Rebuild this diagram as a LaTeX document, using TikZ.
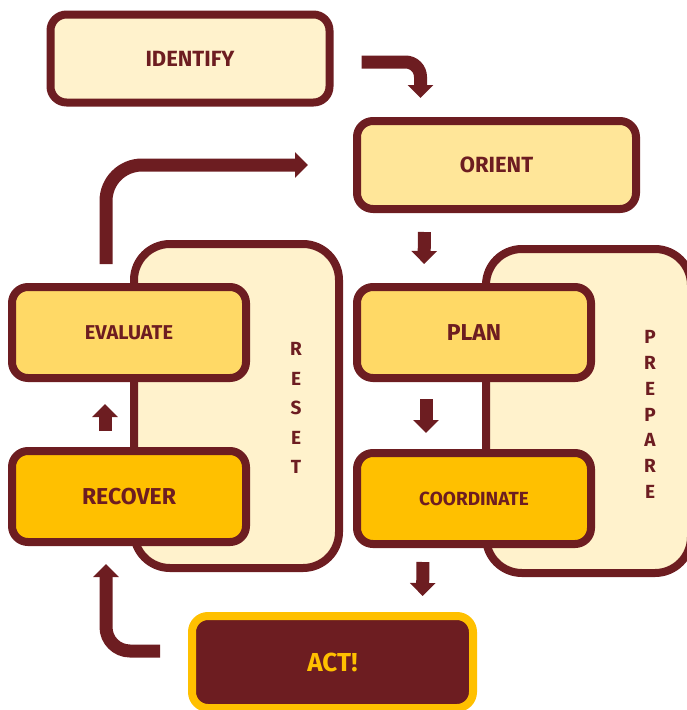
\documentclass[tikz,border=0pt]{standalone}
\usepackage{fontspec}
\setmainfont{Fira Sans}
\usetikzlibrary{arrows.meta}
\definecolor{wine}{HTML}{6D1D21}
\definecolor{cream}{HTML}{FFF2CC}
\definecolor{sand}{HTML}{FFE699}
\definecolor{honey}{HTML}{FFD966}
\definecolor{amber}{HTML}{FFC000}

\begin{document}
\begin{tikzpicture}[x=1pt,y=-1pt,>={Triangle[width=25pt,length=13pt]}]
    \tikzstyle{box}=[rectangle, rounded corners=16pt, draw=wine, line width=8pt, text=wine, inner sep=0pt, font=\fontsize{22}{26}\selectfont\bfseries]
    \tikzstyle{stage}=[box, minimum width=234pt, minimum height=91pt]
    \tikzstyle{wide stage}=[box, minimum width=279pt, minimum height=88pt]
    \tikzstyle{panel}=[box, fill=cream, rounded corners=36pt, minimum width=205pt, minimum height=324pt]
    \tikzstyle{phase}=[text=wine, align=center, inner sep=0pt]
    \tikzstyle{flow}=[->, draw=wine, line width=13pt]

    \useasboundingbox (0,0) rectangle (687,710);

    % Draw the side panels
    \node[panel] (reset panel) at (236.5,406) {};
    \node[panel] (prepare panel) at (588.5,411) {};
    \node[phase, font=\fontsize{19}{29.5}\selectfont\bfseries] (reset) at (296,408) {R\\E\\S\\E\\T};
    \node[phase, font=\fontsize{19}{25.8}\selectfont\bfseries] (prepare) at (650,414.5) {P\\R\\E\\P\\A\\R\\E};

    % Draw the stages
    \node[wide stage, fill=cream] (identify) at (190,58.5) {IDENTIFY};
    \node[wide stage, fill=sand] (orient) at (496.5,165) {ORIENT};
    \node[stage, fill=honey, font=\fontsize{20}{24}\selectfont\bfseries] (evaluate) at (129,332.5) {EVALUATE};
    \node[stage, fill=amber, font=\fontsize{23}{27}\selectfont\bfseries] (recover) at (129,496.5) {RECOVER};
    \node[stage, fill=honey, font=\fontsize{23}{27}\selectfont\bfseries] (plan) at (474,332.5) {PLAN};
    \node[stage, fill=amber, font=\fontsize{19}{23}\selectfont\bfseries] (coordinate) at (474,498.5) {COORDINATE};
    \node[box, fill=wine, draw=amber, text=amber, minimum width=281pt, minimum height=92pt, font=\fontsize{26}{30}\selectfont\bfseries] (act) at (332.5,662) {ACT!};

    % Draw the arrows
    \draw[flow, rounded corners=15pt, shorten >=19pt] ([xshift=28pt,yshift=-3.5pt]identify.east) -| ([xshift=-76pt]orient.north);
    \draw[flow, shorten <=19pt, shorten >=19pt] ([xshift=-72pt]orient.south) -- ([xshift=-50pt]plan.north);
    \draw[flow, shorten <=17pt, shorten >=16pt] ([xshift=-48pt]plan.south) -- ([xshift=-48pt]coordinate.north);
    \draw[flow, shorten <=14pt, shorten >=16pt] ([xshift=-51pt]coordinate.south) -- ([xshift=90pt]act.north);
    \draw[flow, rounded corners=24pt, shorten <=28pt, shorten >=18pt] ([yshift=11pt]act.west) -| ([xshift=-23pt]recover.south);
    \draw[flow, shorten <=16pt, shorten >=22pt] ([xshift=-24pt]recover.north) -- ([xshift=-24pt]evaluate.south);
    \draw[flow, rounded corners=36pt, shorten <=19pt, shorten >=45pt] ([xshift=-23pt]evaluate.north) |- (orient.west);
\end{tikzpicture}
\end{document}
